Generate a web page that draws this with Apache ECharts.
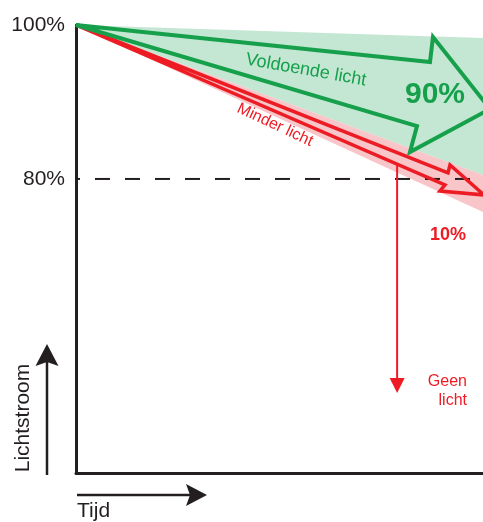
<!DOCTYPE html>
<html><head><meta charset="utf-8">
<script src="https://cdn.jsdelivr.net/npm/echarts@6/dist/echarts.min.js"></script>
<style>html,body{margin:0;padding:0;background:#fff}#c{width:483px;height:522px}</style>
</head><body><div id="c"></div>
<script>
// ---- data (time 0..100, luminous flux in %) ----
const timeDomain = [0, 100];
const fluxDomain = [41.8, 100];
const fluxTicks = [80, 100];
const sufficientBand = [[0, 100], [100, 98.31], [100, 80.52]];
const reducedBand = [[0, 100], [100, 80.52], [100, 75.71]];
const sufficientArrow = [[0, 100], [86.98, 95.19], [87.71, 98.44], [101.72, 89.09], [82.06, 83.51], [83.78, 86.88]];
const reducedArrow = [[0, 100], [91.40, 80.78], [91.89, 81.82], [100.25, 77.92], [89.43, 78.44], [90.66, 79.22]];
const thresholdLine = [[0, 80], [100, 80]];
const noLightDrop = [[78.9, 81.8], [78.9, 52.2]];
const shareLabels = ['90%', '10%'];

const FONT = '"Liberation Sans", Arial, sans-serif';
const GREEN = '#17a04b', RED = '#ed1c24', INK = '#231f20';
const GREEN_FILL = '#c4e7d3', PINK_FILL = '#f8c5c8';

function polySeries(points, style, z) {
  return {
    type: 'custom', coordinateSystem: 'cartesian2d', silent: true, z: z, clip: false,
    data: [points[0]],
    renderItem: function (params, api) {
      return { type: 'polygon', shape: { points: points.map(p => api.coord(p)) }, style: style };
    }
  };
}

const chart = echarts.init(document.getElementById('c'), null, { renderer: 'canvas' });
chart.setOption({
  animation: false,
  backgroundColor: '#fff',
  grid: { left: 76, right: 0, top: 25, bottom: 49 },
  xAxis: {
    type: 'value', min: timeDomain[0], max: timeDomain[1],
    axisLine: { show: true, lineStyle: { color: INK, width: 3 } },
    axisTick: { show: false }, axisLabel: { show: false }, splitLine: { show: false }
  },
  yAxis: {
    type: 'value', min: fluxDomain[0], max: fluxDomain[1],
    axisLine: { show: true, lineStyle: { color: INK, width: 3 } },
    axisTick: { show: false }, splitLine: { show: false },
    axisLabel: {
      customValues: fluxTicks, formatter: v => v + '%',
      color: INK, fontSize: 21, fontFamily: FONT, margin: 11
    }
  },
  series: [
    polySeries(sufficientBand, { fill: GREEN_FILL }, 1),
    polySeries(reducedBand, { fill: PINK_FILL }, 1),
    {
      type: 'line', data: thresholdLine, symbol: 'none', silent: true, z: 3,
      lineStyle: { color: INK, width: 2, type: [15, 15], dashOffset: 11 }
    },
    polySeries(reducedArrow, { fill: 'none', stroke: RED, lineWidth: 3.5, lineJoin: 'miter' }, 4),
    polySeries(sufficientArrow, { fill: 'none', stroke: GREEN, lineWidth: 4, lineJoin: 'miter' }, 5),
    {
      type: 'custom', coordinateSystem: 'cartesian2d', silent: true, z: 6,
      data: [noLightDrop[0]],
      renderItem: function (params, api) {
        const a = api.coord(noLightDrop[0]), b = api.coord(noLightDrop[1]);
        return {
          type: 'group', children: [
            { type: 'line', shape: { x1: a[0], y1: a[1], x2: b[0], y2: b[1] - 12 }, style: { stroke: RED, lineWidth: 2 } },
            { type: 'polygon', shape: { points: [[b[0] - 7.5, b[1] - 15], [b[0] + 7.5, b[1] - 15], [b[0], b[1]]] }, style: { fill: RED } }
          ]
        };
      }
    }
  ],
  graphic: [
    { type: 'text', x: 306, y: 70, rotation: -10 * Math.PI / 180, z: 10,
      style: { text: 'Voldoende licht', fill: GREEN, font: '18px ' + FONT, textAlign: 'center', textVerticalAlign: 'middle' } },
    { type: 'text', x: 275, y: 125, rotation: -25 * Math.PI / 180, z: 10,
      style: { text: 'Minder licht', fill: RED, font: '16px ' + FONT, textAlign: 'center', textVerticalAlign: 'middle' } },
    { type: 'text', x: 435, y: 95, z: 10,
      style: { text: shareLabels[0], fill: GREEN, font: 'bold 30px ' + FONT, textAlign: 'center', textVerticalAlign: 'middle' } },
    { type: 'text', x: 448, y: 235, z: 10,
      style: { text: shareLabels[1], fill: RED, font: 'bold 18px ' + FONT, textAlign: 'center', textVerticalAlign: 'middle' } },
    { type: 'text', x: 467, y: 382, z: 10,
      style: { text: 'Geen', fill: RED, font: '16px ' + FONT, textAlign: 'right', textVerticalAlign: 'middle' } },
    { type: 'text', x: 467, y: 401, z: 10,
      style: { text: 'licht', fill: RED, font: '16px ' + FONT, textAlign: 'right', textVerticalAlign: 'middle' } },
    { type: 'text', x: 23, y: 418, rotation: Math.PI / 2, z: 10,
      style: { text: 'Lichtstroom', fill: INK, font: '21px ' + FONT, textAlign: 'center', textVerticalAlign: 'middle' } },
    { type: 'text', x: 77, y: 511, z: 10,
      style: { text: 'Tijd', fill: INK, font: '21px ' + FONT, textAlign: 'left', textVerticalAlign: 'middle' } },
    { type: 'line', shape: { x1: 47, y1: 475, x2: 47, y2: 360 }, style: { stroke: INK, lineWidth: 2.5 } },
    { type: 'polygon', shape: { points: [[47, 344], [58.5, 366], [47, 362], [35.5, 366]] }, style: { fill: INK } },
    { type: 'line', shape: { x1: 77, y1: 495, x2: 192, y2: 495 }, style: { stroke: INK, lineWidth: 2.5 } },
    { type: 'polygon', shape: { points: [[207, 495], [186, 506], [190, 495], [186, 484]] }, style: { fill: INK } }
  ]
});
</script></body></html>
